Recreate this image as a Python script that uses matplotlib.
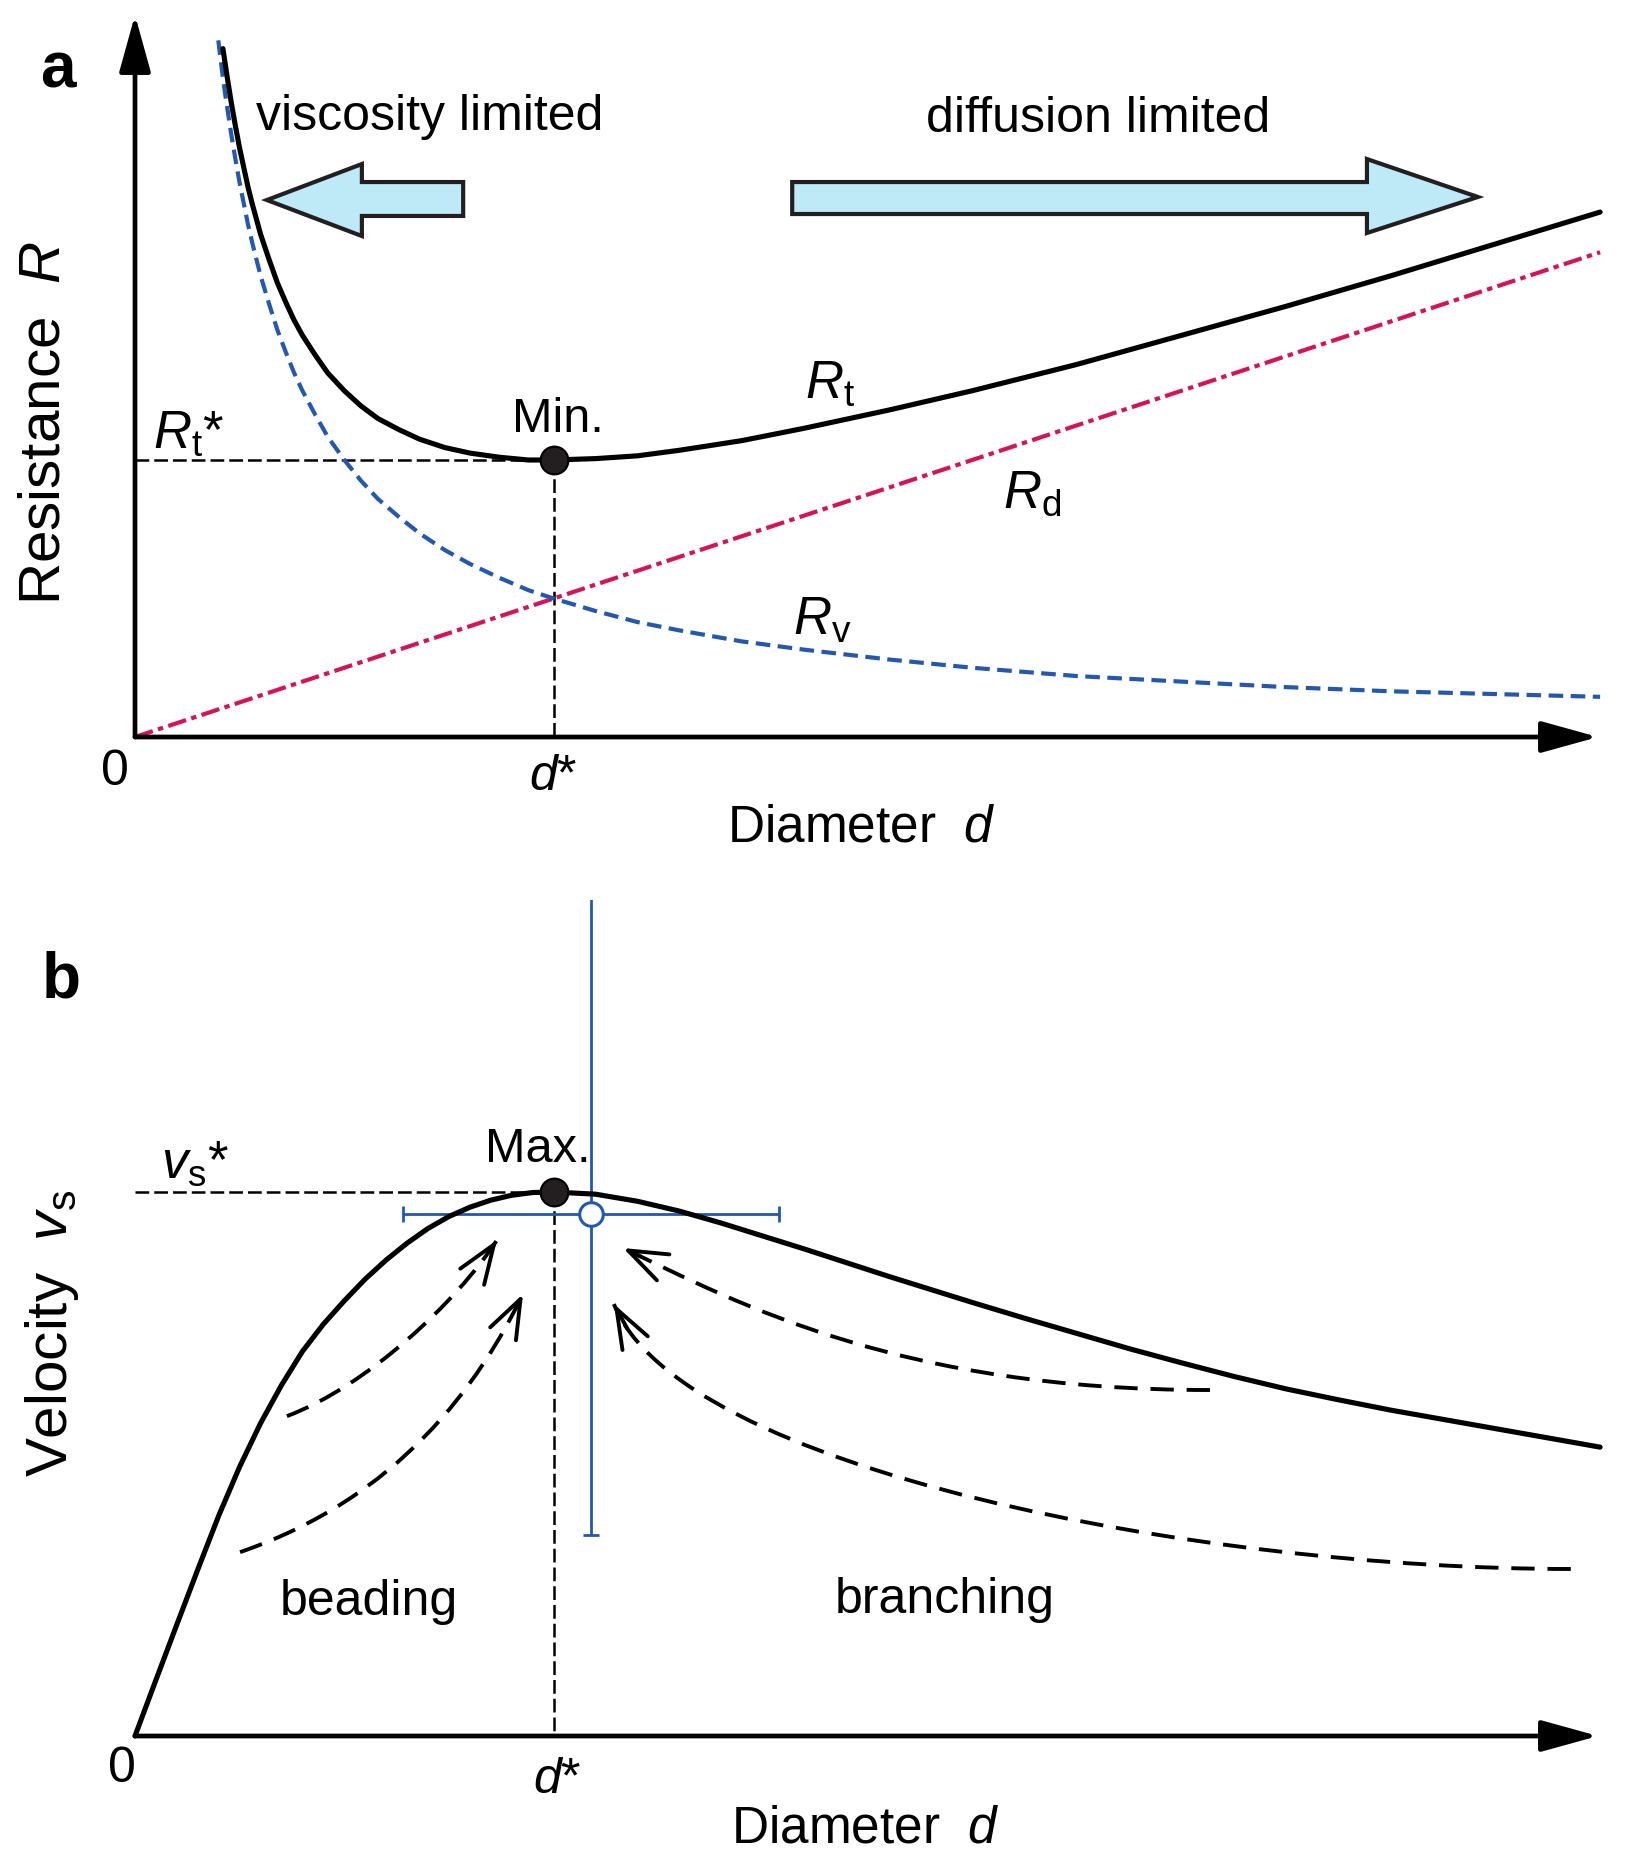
import numpy as np
import matplotlib.pyplot as plt
from matplotlib.patches import Polygon, PathPatch
from matplotlib.path import Path

plt.rcParams['font.family'] = 'Liberation Sans'
plt.rcParams['mathtext.fontset'] = 'custom'
plt.rcParams['mathtext.rm'] = 'Liberation Sans'
plt.rcParams['mathtext.it'] = 'Liberation Sans:italic'
plt.rcParams['mathtext.bf'] = 'Liberation Sans:bold'

# ---- panel a: resistance vs diameter (d* = 1, R_v(d*) = 1)
d_rv = [0.199, 0.205, 0.21, 0.215, 0.22, 0.23, 0.24, 0.25, 0.26, 0.27, 0.28, 0.29,
        0.3, 0.32, 0.34, 0.36, 0.38, 0.4, 0.43, 0.46, 0.5, 0.54, 0.58, 0.63, 0.68,
        0.74, 0.8, 0.87, 0.94, 1.0, 1.1, 1.2, 1.3, 1.45, 1.6, 1.8, 2.0, 2.25, 2.5,
        2.75, 3.0, 3.25, 3.5]
rv = [5.03, 4.88, 4.76, 4.65, 4.55, 4.35, 4.17, 4.0, 3.85, 3.70, 3.57, 3.45,
      3.33, 3.13, 2.94, 2.78, 2.63, 2.5, 2.33, 2.17, 2.0, 1.85, 1.72, 1.59, 1.47,
      1.35, 1.25, 1.15, 1.06, 1.0, 0.91, 0.83, 0.77, 0.69, 0.63, 0.56, 0.5, 0.44,
      0.4, 0.36, 0.33, 0.31, 0.29]

d_rt = [0.21, 0.215, 0.22, 0.23, 0.24, 0.25, 0.26, 0.27, 0.28, 0.29, 0.3, 0.32,
        0.34, 0.36, 0.38, 0.4, 0.43, 0.46, 0.5, 0.54, 0.58, 0.63, 0.68, 0.74, 0.8,
        0.87, 0.94, 1.0, 1.1, 1.2, 1.3, 1.45, 1.6, 1.8, 2.0, 2.25, 2.5, 2.75, 3.0,
        3.25, 3.5]
rt = [4.97, 4.87, 4.77, 4.58, 4.41, 4.25, 4.11, 3.97, 3.85, 3.74, 3.63, 3.45,
      3.28, 3.14, 3.01, 2.9, 2.76, 2.63, 2.5, 2.39, 2.30, 2.22, 2.15, 2.09, 2.05,
      2.02, 2.0, 2.0, 2.01, 2.03, 2.07, 2.14, 2.23, 2.36, 2.5, 2.69, 2.9, 3.11,
      3.33, 3.56, 3.79]

d_rd = [0.0, 3.5]
rd = [0.0, 3.5]

d_star = 1.0
rt_star = 2.0

# ---- panel b: velocity vs diameter (v_s* = 1)
d_vs = [0.0, 0.05, 0.1, 0.15, 0.2, 0.25, 0.3, 0.35, 0.4, 0.45, 0.5, 0.55, 0.6,
        0.65, 0.7, 0.75, 0.8, 0.85, 0.9, 0.95, 1.0, 1.1, 1.2, 1.3, 1.4, 1.5, 1.6,
        1.7, 1.8, 1.9, 2.0, 2.125, 2.25, 2.375, 2.5, 2.625, 2.75, 2.875, 3.0,
        3.125, 3.25, 3.375, 3.5]
vs = [0.0, 0.103, 0.205, 0.306, 0.405, 0.495, 0.575, 0.645, 0.707, 0.757, 0.80,
      0.840, 0.875, 0.906, 0.933, 0.955, 0.972, 0.985, 0.994, 0.999, 1.0, 0.996,
      0.983, 0.965, 0.943, 0.919, 0.895, 0.870, 0.845, 0.821, 0.797, 0.768, 0.740,
      0.712, 0.686, 0.661, 0.638, 0.618, 0.599, 0.582, 0.565, 0.548, 0.531]
vs_star = 1.0

# observed point with error bars
d_obs = [1.089]
v_obs = [0.960]
d_err = [0.449]
v_err = [0.590]

BLUE = '#2358ad'
RED = '#d4145a'
DARK = '#231f20'
FILL = '#bee9f7'

W, H = 1627, 1867
split = 900
fig = plt.figure(figsize=(W / 100, H / 100), dpi=100)
ax_a = fig.add_axes([0, 1 - split / H, 1, split / H])
ax_b = fig.add_axes([0, 0, 1, 1 - split / H])

x0, xu = 135, 418.6
for ax in (ax_a, ax_b):
    ax.set_xlim(-x0 / xu, (W - x0) / xu)
    ax.set_axis_off()
ax_a.set_ylim((737 - split) / 138.5, 737 / 138.5)
ax_b.set_ylim((1736 - H) / 544, (1736 - split) / 544)


def axis_arrows(ax, xtip, ytip):
    for tip in [(xtip, 0), (0, ytip)]:
        ax.annotate('', xy=tip, xytext=(0, 0),
                    arrowprops=dict(arrowstyle='-|>,head_length=1.3,head_width=0.36',
                                    mutation_scale=27, lw=3.4, color='k',
                                    shrinkA=0, shrinkB=0))


def dashed_arrow(ax, p0, c1, c2, p3):
    pts = np.array([p0, c1, c2, p3], dtype=float)
    path = Path(pts, [Path.MOVETO, Path.CURVE4, Path.CURVE4, Path.CURVE4])
    ax.add_patch(PathPatch(path, fill=False, lw=2.8, ls=(0, (6, 3.3)),
                           edgecolor='k', capstyle='butt'))
    t = 0.95
    back = ((1 - t) ** 3 * pts[0] + 3 * (1 - t) ** 2 * t * pts[1]
            + 3 * (1 - t) * t ** 2 * pts[2] + t ** 3 * pts[3])
    ax.annotate('', xy=tuple(pts[3]), xytext=tuple(back),
                arrowprops=dict(arrowstyle='->,head_length=1.0,head_width=0.37',
                                mutation_scale=28, lw=2.8, color='k',
                                shrinkA=0, shrinkB=0))


# ================= panel a
ax_a.plot([0, d_star], [rt_star, rt_star], color='k', lw=1.8, ls=(0, (5.5, 2)))
ax_a.plot([d_star, d_star], [rt_star, 0], color='k', lw=1.8, ls=(0, (5.5, 2)))
ax_a.plot(d_rd, rd, color=RED, lw=3.0, ls=(0, (4.5, 1.3, 1.3, 1.3)))
ax_a.plot(d_rv, rv, color=BLUE, lw=3.0, ls=(0, (3.5, 1.8)))
ax_a.plot(d_rt, rt, color='k', lw=3.7, solid_capstyle='round',
          solid_joinstyle='round', zorder=4)
ax_a.plot([d_star], [rt_star], 'o', ms=20, mfc=DARK, mec='k', mew=1.5, zorder=5)
axis_arrows(ax_a, 3.495, 5.213)

ax_a.add_patch(Polygon([(0.315, 3.877), (0.542, 4.137), (0.542, 4.007), (0.784, 4.007),
                        (0.784, 3.762), (0.542, 3.762), (0.542, 3.617)],
                       closed=True, fc=FILL, ec=DARK, lw=3.0, joinstyle='miter'))
ax_a.add_patch(Polygon([(3.208, 3.899), (2.943, 4.173), (2.943, 4.007), (1.570, 4.007),
                        (1.570, 3.776), (2.943, 3.776), (2.943, 3.639)],
                       closed=True, fc=FILL, ec=DARK, lw=3.0, joinstyle='miter'))

ax_a.text(-0.184, 4.69, 'a', fontsize=46, fontweight='bold', ha='center', va='baseline')
ax_a.text(0.705, 4.383, 'viscosity limited', fontsize=36, ha='center', va='baseline')
ax_a.text(2.30, 4.368, 'diffusion limited', fontsize=36, ha='center', va='baseline')
ax_a.text(1.600, 2.448, r'$R_\mathrm{t}$', fontsize=38, ha='left', va='baseline')
ax_a.text(2.074, 1.653, r'$R_\mathrm{d}$', fontsize=38, ha='left', va='baseline')
ax_a.text(1.572, 0.736, r'$R_\mathrm{v}$', fontsize=38, ha='left', va='baseline')
ax_a.text(0.042, 2.087, r'$R_\mathrm{t}$*', fontsize=38, ha='left', va='baseline')
ax_a.text(1.01, 2.202, 'Min.', fontsize=35, ha='center', va='baseline')
ax_a.text(-0.048, -0.347, '0', fontsize=36, ha='center', va='baseline')
ax_a.text(1.0, -0.383, r'$d$*', fontsize=36, ha='center', va='baseline')
ax_a.text(1.414, -0.758, r'Diameter  $d$', fontsize=37, ha='left', va='baseline')
ax_a.text(-0.217, 2.267, r'Resistance  $R$', fontsize=42, rotation=90,
          ha='center', va='center')

# ================= panel b
ax_b.plot([0, d_star], [vs_star, vs_star], color='k', lw=1.8, ls=(0, (5.5, 2)))
ax_b.plot([d_star, d_star], [vs_star, 0], color='k', lw=1.8, ls=(0, (5.5, 2)))
ax_b.errorbar(d_obs, v_obs, xerr=d_err, yerr=v_err, fmt='none', ecolor=BLUE,
              elinewidth=2.0, capsize=6, capthick=2.0, zorder=3)
ax_b.plot(d_vs, vs, color='k', lw=3.7, solid_capstyle='round',
          solid_joinstyle='round', zorder=4)
ax_b.plot(d_obs, v_obs, 'o', ms=17, mfc='white', mec=BLUE, mew=2.2, zorder=5)
ax_b.plot([d_star], [vs_star], 'o', ms=20, mfc=DARK, mec='k', mew=1.5, zorder=5)
axis_arrows(ax_b, 3.495, 1.551)

dashed_arrow(ax_b, (0.363, 0.588), (0.554, 0.643), (0.769, 0.798), (0.865, 0.912))
dashed_arrow(ax_b, (0.251, 0.338), (0.633, 0.439), (0.822, 0.647), (0.927, 0.8125))
dashed_arrow(ax_b, (2.568, 0.636), (1.828, 0.636), (1.445, 0.794), (1.166, 0.897))
dashed_arrow(ax_b, (3.430, 0.307), (2.544, 0.307), (1.302, 0.489), (1.144, 0.794))

ax_b.text(-0.177, 1.358, 'b', fontsize=46, fontweight='bold', ha='center', va='baseline')
ax_b.text(0.062, 1.026, r'$v_\mathrm{s}$*', fontsize=38, ha='left', va='baseline')
ax_b.text(0.963, 1.055, 'Max.', fontsize=35, ha='center', va='baseline')
ax_b.text(0.559, 0.222, 'beading', fontsize=36, ha='center', va='baseline')
ax_b.text(1.935, 0.226, 'branching', fontsize=36, ha='center', va='baseline')
ax_b.text(-0.031, -0.085, '0', fontsize=36, ha='center', va='baseline')
ax_b.text(1.008, -0.105, r'$d$*', fontsize=36, ha='center', va='baseline')
ax_b.text(1.424, -0.195, r'Diameter  $d$', fontsize=37, ha='left', va='baseline')
ax_b.text(-0.198, 0.739, r'Velocity  $v_\mathrm{s}$', fontsize=42, rotation=90,
          ha='center', va='center')

fig.savefig('out.png', dpi=100)
